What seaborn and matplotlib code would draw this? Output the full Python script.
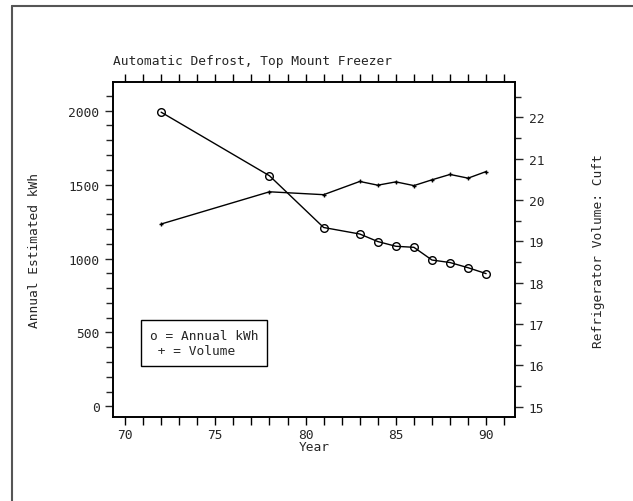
import numpy as np
import pandas as pd
import matplotlib
matplotlib.use("Agg")
import matplotlib.pyplot as plt
from matplotlib.ticker import MultipleLocator
from matplotlib.lines import Line2D
import seaborn as sns

# ---- data ----
years = [72, 78, 81, 83, 84, 85, 86, 87, 88, 89, 90]
annual_kwh = [1990, 1560, 1210, 1166, 1115, 1083, 1076, 990, 973, 938, 898]
volume_cuft = [19.42, 20.20, 20.13, 20.45, 20.36, 20.44, 20.35, 20.49, 20.62, 20.53, 20.69]

title = "Automatic Defrost, Top Mount Freezer"
xlabel = "Year"
ylabel_left = "Annual Estimated kWh"
ylabel_right = "Refrigerator Volume: Cuft"
legend_text = "o = Annual kWh\n + = Volume"

sns.set_style("ticks")
plt.rcParams['font.family'] = ['DejaVu Sans Mono']
plt.rcParams['font.size'] = 9.3

df = pd.DataFrame({"year": years, "kwh": annual_kwh, "vol": volume_cuft})

fig = plt.figure(figsize=(6.33, 5.02), dpi=100)
ax = fig.add_axes([0.179, 0.1667, 0.6346, 0.6673])
ax2 = ax.twinx()

sns.lineplot(data=df, x="year", y="kwh", ax=ax, color="black", linewidth=1.0,
             marker="o", markersize=5.5, markerfacecolor="none",
             markeredgecolor="black", markeredgewidth=1.0)
sns.lineplot(data=df, x="year", y="vol", ax=ax2, color="black", linewidth=1.0,
             marker="+", markersize=3.5, markeredgecolor="black", markeredgewidth=1.0)

ax.set_xlim(69.35, 91.6)
ax.set_ylim(-74, 2192)
ax2.set_ylim(14.74, 22.85)

ax.xaxis.set_major_locator(MultipleLocator(5))
ax.xaxis.set_minor_locator(MultipleLocator(1))
ax.yaxis.set_major_locator(MultipleLocator(500))
ax.yaxis.set_minor_locator(MultipleLocator(100))
ax2.yaxis.set_major_locator(MultipleLocator(1))
ax2.yaxis.set_minor_locator(MultipleLocator(0.5))

ax.tick_params(axis="x", which="both", direction="out", top=True, bottom=True,
               labeltop=False, color="black", width=1.0)
ax.tick_params(axis="x", which="major", length=6, pad=2)
ax.tick_params(axis="x", which="minor", length=6)
ax.tick_params(axis="y", which="major", direction="out", length=6, width=1.0, pad=4)
ax.tick_params(axis="y", which="minor", direction="out", length=5, width=1.0)
ax2.tick_params(axis="y", which="major", direction="out", length=6, width=1.0, pad=4)
ax2.tick_params(axis="y", which="minor", direction="out", length=4, width=1.0)

for a in (ax, ax2):
    for s in a.spines.values():
        s.set_visible(True)
        s.set_linewidth(1.2)
        s.set_color("black")

ax.set_xlabel(xlabel, labelpad=-1)
ax.set_ylabel(ylabel_left, labelpad=20)
ax2.set_ylabel(ylabel_right, labelpad=34, rotation=90)
ax.set_title(title, loc="left", pad=13, fontsize=9.3)

ax.text(0.226, 0.222, legend_text, transform=ax.transAxes, ha="center", va="center",
        multialignment="left", fontsize=9.3, linespacing=1.15,
        bbox=dict(boxstyle="square,pad=0.7", facecolor="white", edgecolor="black", linewidth=1.0))

# page frame lines (top and left)
fig.add_artist(Line2D([12/633, 1.0], [1-7/502, 1-7/502], transform=fig.transFigure,
                      color="#555555", linewidth=1.5))
fig.add_artist(Line2D([12/633, 12/633], [0.0, 1-7/502], transform=fig.transFigure,
                      color="#555555", linewidth=1.5))

fig.savefig("out.png", dpi=100)
